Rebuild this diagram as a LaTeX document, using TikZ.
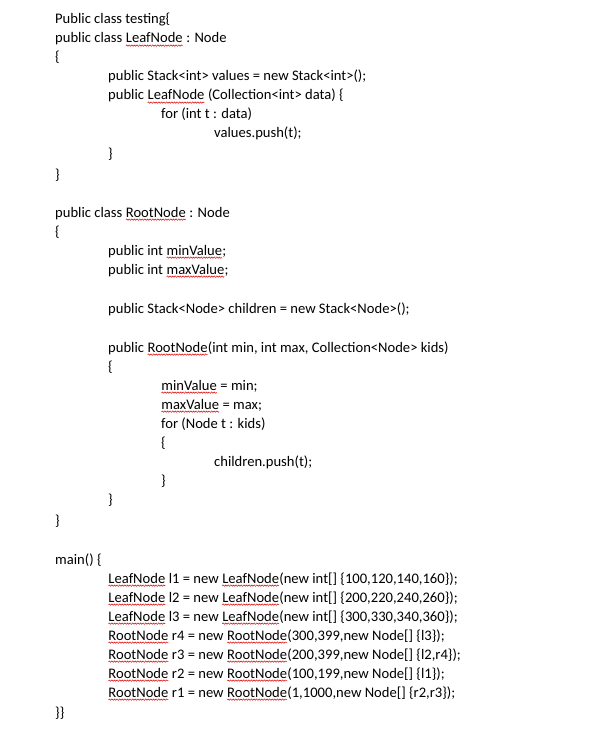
\documentclass[tikz,border=0pt]{standalone}
\usepackage{fontspec}
\setmainfont{Carlito}
\usetikzlibrary{decorations.pathmorphing}
\newcommand\sq[1]{\tikz[baseline=(w.base)]{\node[inner sep=0pt,outer sep=0pt](w){#1};\draw[red!85!black,line width=0.5pt,decorate,decoration={snake,amplitude=0.7pt,segment length=2.6pt}] ([yshift=-2.6pt]w.base west)--([yshift=-2.6pt]w.base east);}}
\tikzset{code/.style={anchor=base west,inner sep=0pt,font=\fontsize{14.6}{17}\selectfont}}
\begin{document}
\begin{tikzpicture}[x=1pt,y=-1pt]
\useasboundingbox[fill=white] (0,0) rectangle (609,738);
\def\a{55}\def\b{108}\def\c{161}\def\d{214}
\node[code] (t1) at (\a,24) {Public class testing\{};
\node[code] (t2) at (\a,43) {public class \sq{LeafNode} : Node};
\node[code] (t3) at (\a,62) {\{};
\node[code] (t4) at (\b,81) {public Stack<int> values = new Stack<int>();};
\node[code] (t5) at (\b,100) {public \sq{LeafNode} (Collection<int> data) \{};
\node[code] (t6) at (\c,119) {for (int t : data)};
\node[code] (t7) at (\d,138) {values.push(t);};
\node[code] (t8) at (\b,159) {\}};
\node[code] (t9) at (\a,179) {\}};
\node[code] (u1) at (\a,217) {public class \sq{RootNode} : Node};
\node[code] (u2) at (\a,236) {\{};
\node[code] (u3) at (\b,255) {public int \sq{minValue};};
\node[code] (u4) at (\b,274) {public int \sq{maxValue};};
\node[code] (u5) at (\b,313) {public Stack<Node> children = new Stack<Node>();};
\node[code] (u6) at (\b,352) {public \sq{RootNode}(int min, int max, Collection<Node> kids)};
\node[code] (u7) at (\b,371) {\{};
\node[code] (u8) at (\c,390) {\sq{minValue} = min;};
\node[code] (u9) at (\c,409) {\sq{maxValue} = max;};
\node[code] (u10) at (\c,428) {for (Node t : kids)};
\node[code] (u11) at (\c,447) {\{};
\node[code] (u12) at (\d,466) {children.push(t);};
\node[code] (u13) at (\c,485) {\}};
\node[code] (u14) at (\b,504) {\}};
\node[code] (u15) at (\a,525) {\}};
\node[code] (m0) at (\a,564) {main() \{};
\node[code] (m1) at (\b,583) {\sq{LeafNode} l1 = new \sq{LeafNode}(new int[] \{100,120,140,160\});};
\node[code] (m2) at (\b,602) {\sq{LeafNode} l2 = new \sq{LeafNode}(new int[] \{200,220,240,260\});};
\node[code] (m3) at (\b,621) {\sq{LeafNode} l3 = new \sq{LeafNode}(new int[] \{300,330,340,360\});};
\node[code] (m4) at (\b,640) {\sq{RootNode} r4 = new \sq{RootNode}(300,399,new Node[] \{l3\});};
\node[code] (m5) at (\b,659) {\sq{RootNode} r3 = new \sq{RootNode}(200,399,new Node[] \{l2,r4\});};
\node[code] (m6) at (\b,678) {\sq{RootNode} r2 = new \sq{RootNode}(100,199,new Node[] \{l1\});};
\node[code] (m7) at (\b,697) {\sq{RootNode} r1 = new \sq{RootNode}(1,1000,new Node[] \{r2,r3\});};
\node[code] (m8) at (\a,717) {\}\}};
\end{tikzpicture}
\end{document}
